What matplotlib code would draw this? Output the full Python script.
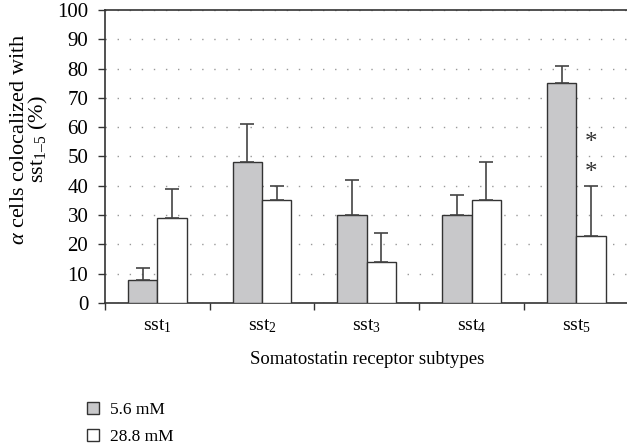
import matplotlib.pyplot as plt
import numpy as np

plt.rcParams['font.family'] = ['Liberation Serif', 'DejaVu Serif']
plt.rcParams['mathtext.fontset'] = 'custom'
plt.rcParams['mathtext.rm'] = 'Liberation Serif'
plt.rcParams['mathtext.it'] = 'Liberation Serif:italic'

categories = ['sst$_1$', 'sst$_2$', 'sst$_3$', 'sst$_4$', 'sst$_5$']
low_glucose = [8, 48, 30, 30, 75]
low_err = [4, 13, 12, 7, 6]
high_glucose = [29, 35, 14, 35, 23]
high_err = [10, 5, 10, 13, 17]
star_values = [44.5, 54.5]

fig = plt.figure(figsize=(6.27, 4.48), dpi=100)
ax = fig.add_axes([0.1675, 0.3237, 0.835, 0.654])

x = np.arange(len(categories))
w = 0.28
edge = '#333333'
ekw = dict(ecolor='#444444', elinewidth=1.2, capsize=5, capthick=1.2)
ax.bar(x - w / 2, low_glucose, w, color='#c8c8ca', edgecolor=edge, linewidth=1.0,
       yerr=[np.zeros(5), low_err], error_kw=ekw, label='5.6 mM', zorder=3)
ax.bar(x + w / 2, high_glucose, w, color='white', edgecolor=edge, linewidth=1.0,
       yerr=[np.zeros(5), high_err], error_kw=ekw, label='28.8 mM', zorder=3)

for v in star_values:
    ax.text(x[-1] + 0.14, v, '*', ha='center', va='center', fontsize=18, color='#333333')

ax.set_xlim(-0.5, 4.5)
ax.set_ylim(0, 100)
ax.set_yticks(range(0, 101, 10))
ax.set_xticks(x)
ax.set_xticklabels(categories, fontsize=14)
ax.set_xticks(np.arange(-0.5, 5, 1), minor=True)
ax.tick_params(axis='x', which='major', length=0, pad=10)
ax.tick_params(axis='x', which='minor', length=5, width=1, color='#333333')
ax.tick_params(axis='y', length=5, width=1, color='#333333', labelsize=15, pad=7)

ax.yaxis.grid(True, linestyle=(0, (1, 7.7)), color='#999999', linewidth=1)
ax.set_axisbelow(True)
ax.spines['right'].set_visible(False)
for s in ['left', 'top', 'bottom']:
    ax.spines[s].set_color('#333333')
    ax.spines[s].set_linewidth(1.2)

ax.set_xlabel('Somatostatin receptor subtypes', fontsize=13.5, labelpad=12)
ax.set_ylabel('$\\mathit{\\alpha}$ cells colocalized with\nsst$_{1\u20135}$ (%)', fontsize=16,
              linespacing=0.85)
ax.yaxis.set_label_coords(-0.105, 0.56)

handles, labels = ax.get_legend_handles_labels()
fig.legend(handles, labels, loc='upper left', bbox_to_anchor=(0.128, 0.118), frameon=False,
           fontsize=12.5, handlelength=0.7, handleheight=0.7, handletextpad=0.6, labelspacing=0.6,
           borderaxespad=0)

fig.savefig('out.png', dpi=100)
